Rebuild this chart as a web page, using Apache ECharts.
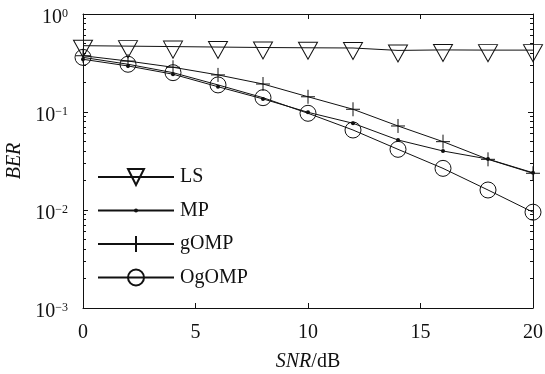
<!DOCTYPE html>
<html>
<head>
<meta charset="utf-8">
<script src="https://cdn.jsdelivr.net/npm/echarts@6/dist/echarts.min.js"></script>
<style>html,body{margin:0;padding:0;background:#fff}#c{width:545px;height:374px}</style>
</head>
<body>
<div id="c"></div>
<script>
// ---- data ----
const snr = [0, 2, 4, 6, 8, 10, 12, 14, 16, 18, 20];
const berLS    = [0.475, 0.47, 0.465, 0.46, 0.455, 0.452, 0.45, 0.425, 0.43, 0.428, 0.428];
const berMP    = [0.345, 0.295, 0.243, 0.181, 0.136, 0.0993, 0.0767, 0.0518, 0.040, 0.0331, 0.024];
const berGOMP  = [0.375, 0.331, 0.286, 0.239, 0.193, 0.143, 0.1066, 0.072, 0.0498, 0.0329, 0.0237];
const berOGOMP = [0.361, 0.307, 0.252, 0.189, 0.140, 0.097, 0.0655, 0.0416, 0.0266, 0.016, 0.0095];
const seriesNames = ['LS', 'MP', 'gOMP', 'OgOMP'];
const xTickValues = [0, 5, 10, 15, 20];
const yTickValues = [0.001, 0.01, 0.1, 1];
const xAxisTitle = 'SNR';
const xAxisUnit = '/dB';
const yAxisTitle = 'BER';

// ---- helpers ----
const FONT = '"Liberation Serif", "Times New Roman", serif';
const yMinorTicks = [];
[0.001, 0.01, 0.1].forEach(d => { for (let k = 2; k <= 9; k++) yMinorTicks.push(+(d * k).toPrecision(3)); });
const toPts = arr => snr.map((x, i) => [x, arr[i]]);
const supLabel = v => {
  const e = Math.round(Math.log10(v));
  return '{b|10}{s|' + (e < 0 ? '\u2212' + (-e) : String(e)) + '}';
};

const lineStyle = { color: '#111', width: 1 };
const hollow = { color: 'rgba(0,0,0,0)', borderColor: '#111', borderWidth: 1 };

const yBase = {
  type: 'log', logBase: 10, min: 0.001, max: 1,
  splitLine: { show: false }, minorTick: { show: false }, minorSplitLine: { show: false }
};
const xBase = {
  type: 'value', min: 0, max: 20, interval: 5,
  splitLine: { show: false }
};

const option = {
  animation: false,
  backgroundColor: '#fff',
  grid: { left: 83, right: 12, top: 14, bottom: 66, outerBoundsMode: 'none', containLabel: false },
  legend: {
    orient: 'vertical', left: 97, top: 167, padding: 0,
    itemWidth: 76, itemHeight: 20, itemGap: 13.5,
    textStyle: { fontFamily: FONT, fontSize: 20, color: '#111', padding: [0, 0, 0, 1] },
    data: seriesNames,
    selectedMode: false
  },
  xAxis: [
    Object.assign({}, xBase, {
      position: 'bottom',
      axisLine: { show: true, lineStyle: { color: '#111', width: 1 } },
      axisTick: { show: true, inside: true, length: 5, customValues: xTickValues, lineStyle: { color: '#111' } },
      axisLabel: { show: true, customValues: xTickValues, margin: 15, fontFamily: FONT, fontSize: 20, color: '#111' },
      name: '{i|' + xAxisTitle + '}' + xAxisUnit,
      nameLocation: 'middle', nameGap: 44,
      nameTextStyle: { fontFamily: FONT, fontSize: 20, color: '#111', rich: { i: { fontFamily: FONT, fontSize: 20, fontStyle: 'italic', color: '#111' } } }
    }),
    Object.assign({}, xBase, {
      position: 'top',
      axisLine: { show: true, lineStyle: { color: '#111', width: 1 } },
      axisTick: { show: true, inside: true, length: 5, customValues: xTickValues, lineStyle: { color: '#111' } },
      axisLabel: { show: false }
    })
  ],
  yAxis: [
    Object.assign({}, yBase, {
      position: 'left',
      axisLine: { show: true, lineStyle: { color: '#111', width: 1 } },
      axisTick: { show: true, inside: true, length: 5, customValues: yTickValues, lineStyle: { color: '#111' } },
      axisLabel: {
        show: true, customValues: yTickValues, margin: 15, formatter: supLabel,
        padding: [8, 0, 0, 0],
        rich: {
          b: { fontFamily: FONT, fontSize: 20, color: '#111' },
          s: { fontFamily: FONT, fontSize: 12, color: '#111', verticalAlign: 'top' }
        }
      },
      name: yAxisTitle, nameLocation: 'middle', nameGap: 50, nameRotate: 90,
      nameTextStyle: { fontFamily: FONT, fontSize: 20, fontStyle: 'italic', color: '#111' }
    }),
    Object.assign({}, yBase, {
      position: 'left',
      axisLine: { show: false },
      axisTick: { show: true, inside: true, length: 3, customValues: yMinorTicks, lineStyle: { color: '#111' } },
      axisLabel: { show: false }
    }),
    Object.assign({}, yBase, {
      position: 'right',
      axisLine: { show: true, lineStyle: { color: '#111', width: 1 } },
      axisTick: { show: true, inside: true, length: 5, customValues: yTickValues, lineStyle: { color: '#111' } },
      axisLabel: { show: false }
    }),
    Object.assign({}, yBase, {
      position: 'right',
      axisLine: { show: false },
      axisTick: { show: true, inside: true, length: 3, customValues: yMinorTicks, lineStyle: { color: '#111' } },
      axisLabel: { show: false }
    })
  ],
  series: [
    {
      name: seriesNames[0], type: 'line', data: toPts(berLS),
      symbol: 'path://M0,0L20,0L10,17Z', symbolSize: [19, 17], symbolOffset: [0, 3],
      itemStyle: hollow, lineStyle: lineStyle, z: 3
    },
    {
      name: seriesNames[1], type: 'line', data: toPts(berMP),
      symbol: 'path://M-8,-8M8,8M-2,0A2,2 0 1,0 2,0A2,2 0 1,0 -2,0Z', symbolSize: 16,
      itemStyle: { color: '#111', borderWidth: 0 }, lineStyle: lineStyle, z: 3
    },
    {
      name: seriesNames[2], type: 'line', data: toPts(berGOMP),
      symbol: 'path://M0,-7L0,7M-7,0L7,0', symbolSize: 14,
      itemStyle: hollow, lineStyle: lineStyle, z: 3
    },
    {
      name: seriesNames[3], type: 'line', data: toPts(berOGOMP),
      symbol: 'circle', symbolSize: 16,
      itemStyle: hollow, lineStyle: lineStyle, z: 3
    }
  ]
};

const chart = echarts.init(document.getElementById('c'), null, { renderer: 'canvas' });
chart.setOption(option);
</script>
</body>
</html>
